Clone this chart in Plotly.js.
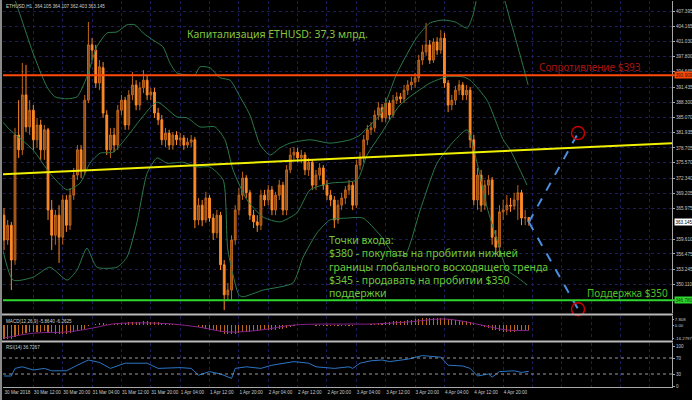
<!DOCTYPE html>
<html><head><meta charset="utf-8">
<script src="https://cdn.plot.ly/plotly-3.0.1.min.js"></script>
<style>html,body{margin:0;padding:0;background:#000}#chart{width:692px;height:400px}</style>
</head><body><div id="chart"></div>
<script>
// ---------- DATA ----------
const timeLabels = ["30 Mar 2018","30 Mar 12:00","30 Mar 20:00","31 Mar 04:00","31 Mar 12:00","31 Mar 20:00","1 Apr 04:00","1 Apr 12:00","1 Apr 20:00","2 Apr 04:00","2 Apr 12:00","2 Apr 20:00","3 Apr 04:00","3 Apr 12:00","3 Apr 20:00","4 Apr 04:00","4 Apr 12:00","4 Apr 20:00"];
const barsPerLabel = 8;
const emptyGridLabels = 5;

const openP = [364.6,359.4,362.5,355.2,381.4,378.3,389.8,383.1,386.6,380.4,383.5,378.3,382.5,365.7,360.4,364.6,360.0,367.8,362.5,368.8,373.0,378.3,374.1,388.7,400.3,399.2,392.3,395.5,385.6,378.3,381.4,379.3,386.6,388.7,383.5,389.8,391.9,387.7,391.3,392.9,389.8,390.4,386.0,384.6,380.4,381.8,379.3,381.4,380.4,380.8,379.3,379.9,380.4,363.6,366.7,363.6,368.2,364.0,360.9,364.6,354.2,347.9,348.9,359.4,365.7,368.8,372.4,369.3,364.6,363.2,362.5,368.8,367.8,369.9,365.7,368.8,370.9,365.7,374.1,377.2,377.8,376.6,377.2,374.1,375.7,370.9,373.0,374.5,370.9,368.8,367.8,363.6,366.7,368.2,369.9,370.9,366.7,375.1,376.6,380.4,382.5,382.9,385.6,387.1,385.0,388.1,385.6,388.7,389.4,389.0,390.8,391.9,392.5,393.4,397.1,398.8,400.3,397.1,400.9,399.2,401.7,392.3,387.7,388.7,390.8,391.9,389.8,390.8,380.4,367.8,373.0,366.7,370.9,372.0,360.0,357.9,365.3,365.7,366.7,366.5,367.8,369.3,364.0,364.105];
const highP = [366.1,363.6,363.2,382.9,388.7,396.5,396.1,388.7,387.7,385.0,384.6,383.5,382.9,367.8,365.7,366.7,368.8,368.8,370.3,374.5,379.3,379.3,389.8,405.1,401.7,400.3,397.1,396.7,386.6,382.9,382.9,387.7,389.8,389.4,390.8,394.6,392.9,392.5,395.0,394.0,391.3,391.3,387.1,385.6,382.9,382.5,382.0,382.2,381.8,381.4,380.8,381.4,381.0,368.2,367.8,369.5,368.8,364.9,365.7,365.3,355.2,350.4,360.4,366.7,370.3,373.7,373.0,369.9,365.7,364.6,369.9,369.9,370.9,370.7,369.5,372.0,371.6,375.1,378.7,378.9,378.7,378.3,377.8,376.6,376.2,374.1,375.5,375.1,372.0,369.9,368.6,367.8,369.3,370.7,372.0,371.6,376.2,377.8,381.4,383.5,384.1,386.6,388.3,387.9,389.2,388.7,389.8,390.4,390.2,391.9,392.9,393.6,394.4,398.2,400.3,404.9,401.3,401.7,401.9,403.4,402.8,392.9,389.8,391.7,392.9,392.5,391.9,391.5,381.4,374.5,374.1,372.0,373.0,372.6,361.5,366.7,367.8,368.8,368.2,369.3,370.9,369.9,365.7,364.107];
const lowP = [357.3,358.4,348.9,354.2,376.6,377.2,382.0,381.4,378.3,378.7,376.2,376.2,363.6,357.3,358.4,354.6,358.4,361.1,361.5,367.8,372.0,372.4,373.0,388.1,397.1,391.3,390.8,385.0,377.2,376.6,377.8,378.3,385.6,382.5,382.5,388.7,386.6,386.6,390.2,388.7,388.7,385.0,383.5,379.3,378.9,378.3,378.3,379.3,379.1,378.3,378.7,378.9,361.9,362.5,362.3,363.0,363.2,359.4,359.8,353.1,344.7,346.8,346.8,358.4,364.6,367.8,368.2,363.6,361.9,361.1,361.5,366.5,366.7,364.6,364.6,367.8,364.6,364.6,373.4,376.2,375.7,375.5,373.0,372.8,369.9,369.9,372.0,369.9,367.8,366.5,361.9,362.8,365.7,366.9,368.8,365.7,366.1,374.1,375.7,379.3,381.4,382.0,384.6,384.1,384.1,384.6,385.0,387.9,388.1,388.1,389.8,390.8,391.3,392.5,396.1,398.0,396.3,396.5,398.2,398.4,391.3,386.2,386.6,387.7,389.8,388.7,388.7,378.7,366.7,365.7,365.3,365.7,368.8,358.4,356.3,355.8,363.6,364.6,365.3,365.7,363.6,362.5,362.5,362.403];
const closeP = [359.4,362.5,355.2,381.4,378.3,389.8,383.1,386.6,380.4,383.5,378.3,382.5,365.7,360.4,364.6,360.0,367.8,362.5,368.8,373.0,378.3,374.1,388.7,400.3,399.2,392.3,395.7,386.0,378.3,381.4,379.3,386.6,388.7,383.5,389.8,391.9,387.7,391.3,392.9,389.8,390.4,386.0,384.6,380.4,381.8,379.3,381.4,380.4,380.8,379.3,379.9,380.4,363.6,366.7,363.6,368.2,364.0,360.9,364.6,354.2,347.9,348.9,359.4,365.7,368.8,372.4,369.3,364.6,363.2,362.5,368.8,367.8,369.9,365.7,368.8,370.9,365.7,374.1,377.2,377.8,376.6,377.2,374.1,375.7,370.9,373.0,374.5,370.9,368.8,367.8,363.6,366.7,368.2,369.9,370.9,366.7,375.1,376.6,380.4,382.5,382.9,385.6,387.1,385.0,388.1,385.6,388.7,389.4,389.0,390.8,391.9,392.5,393.4,397.1,398.8,400.3,397.1,400.9,399.2,401.7,392.3,387.7,388.7,390.8,391.9,389.8,390.8,380.4,367.8,373.0,366.7,370.9,372.0,360.0,357.9,365.3,365.7,366.7,366.5,367.8,369.3,364.0,364.1,363.145];

// Bollinger bands
const bbUpperIdx = [-0.3,3.0,7.9,11.7,13.9,17.2,19.9,22.6,25.3,28.1,30.8,33.5,35.7,37.9,40.6,43.3,45.2,47.1,49.9,52.0,53.4,56.1,58.9,61.6,64.3,67.0,69.8,72.5,75.2,77.9,83.4,88.8,94.3,97.0,98.9,102.5,107.1,112.5,116.1,119.6,122.9,126.2,127.8,129.7,135.1,137.9,140.6,142.8];
const bbUpperVal = [416.0,409.7,398.6,391.5,389.4,389.0,389.4,393.6,399.9,402.8,403.0,404.5,404.5,402.8,401.3,399.9,396.5,394.4,394.0,394.0,395.7,395.5,393.4,392.9,389.4,385.6,379.3,377.2,378.7,379.7,380.4,379.7,380.4,381.4,382.9,385.6,394.4,401.9,404.9,405.5,405.1,403.8,406.6,411.8,411.8,405.5,398.2,391.9];
const bbMidIdx = [-0.3,1.6,7.9,12.5,17.2,20.7,23.4,26.2,29.7,33.5,37.1,41.7,47.1,49.9,53.4,57.5,60.2,62.4,66.2,70.6,75.2,79.8,83.4,88.8,96.2,98.9,102.5,107.9,116.1,120.7,125.1,127.0,131.6,136.0,137.9,142.5];
const bbMidVal = [384.1,382.5,378.3,373.4,369.9,371.3,375.5,377.6,377.8,381.0,384.6,388.3,385.2,385.0,383.1,383.1,380.4,374.1,367.8,364.2,363.2,365.1,369.9,371.3,372.0,377.2,381.4,387.7,392.3,393.6,393.6,392.9,388.7,380.4,378.3,370.9];
const bbLowIdx = [-1.1,2.5,7.9,12.5,17.2,19.9,22.6,25.3,30.8,33.5,36.2,39.0,41.7,44.4,48.8,52.6,56.1,59.7,61.0,64.0,65.1,70.6,78.7,81.5,85.3,88.8,93.5,97.8,102.5,106.5,109.3,113.4,118.0,122.9,126.2,128.9,131.6,134.3,137.1,139.8,142.5];
const bbLowVal = [360.0,351.0,351.6,353.7,351.0,353.1,357.7,353.7,353.7,355.8,363.0,373.4,376.6,375.5,375.7,374.7,374.7,372.0,357.3,347.9,347.5,348.9,350.4,355.8,360.9,363.6,364.0,364.0,360.4,356.3,356.3,365.7,375.5,380.4,382.5,375.5,366.3,359.4,353.1,351.6,350.0];

// MACD(12,26,9)
const macdHist = [-17,-17,-16,-14,-12,-10,-9,-8,-8,
 -8,-8,-7,-8,-9,-10,-10,-10,-10,-9,-8,-7,-6,-4,
 -1,1,2,3,3,2,2,2,
 3,3,3,4,4,4,4,5,5,4,4,4,3,3,2,2,2,1,1,1,
 1,0,-2,-3,-4,-5,-6,-7,-8,-10,
 -11,-11,-10,-9,-8,-8,-8,-7,-7,-6,
 -6,-5,-5,-5,-4,-4,-3,-2,-1,0,0,0,0,0,-1,
 -1,-1,-1,-1,-1,-1,-1,-1,-1,-1,0,0,1,
 1,2,2,3,3,4,4,5,5,6,6,7,7,8,8,9,9,
 9,9,9,9,9,8,8,7,7,6,5,4,
 2,0,-1,-2,-3,-5,-6,-7,-8,-8,-8,-8,-7,-7,-6,-5.864];
const signalIdx = [0,8,17,22,26,30,35,40,46,53,61,70,79,94,100,110,119,123,130,137,143];
const signalVal = [-15.4,-9.5,-8,-5,-1.5,2,3,3,1.7,-2,-8,-5.6,0.5,1.7,1.7,4.2,7.8,6.6,0.5,-5.6,-6.2625];
const macdTicks = [7.808, 0, -16.2797];
const macdTickText = ["7.808","0.00","-16.2797"];

// RSI(14)
const rsiIdx = [0,2,3,5,8,11,13,17,20,23,26,29,33,39,42,48,51,53,56,59,62,63,66,70,73,79,83,85,90,92,94,95,97,100,103,105,110,114,119,121,125,127,129,132,133,135,139,141,143];
const rsiVal = [25,25,44,48,40,44,38,38,52,65,59,44,57,57,44,46,44,27,36,30,19,44,48,44,52,61,57,48,44,46,48,44,57,63,65,61,67,76,72,52,50,44,25,30,22,36,38,34,36.7267];
const rsiTicks = [100,70,30,0];
const rsiLevels = [70,30];

// Price axis labels
const priceTicks = [407.395,404.165,401.030,397.800,394.665,391.435,388.300,385.070,381.935,378.705,375.570,372.340,369.205,365.975,359.610,356.475,353.245,350.110,343.745];
const resistance = 393.909;
const support = 346.780;
const lastPrice = 363.145;
const trendIdx = [-0.3, 182];
const trendVal = [373.2, 379.7];
const projIdx = [143, 156.4];
const projUpVal = [363.145, 381.8];
const projDownVal = [363.145, 344.9];
const targetIdx = [156.4, 156.4];
const targetVal = [381.8, 344.9];

const headerText = "ETHUSD,H1  364.105 364.107 362.403 363.145";
const macdLabel = "MACD(12,26,9) -5.8640 -6.2625";
const rsiLabel = "RSI(14) 36.7267";
const capText = "Капитализация ETHUSD: 37,3 млрд.";
const resText = "Сопротивление $393";
const supText = "Поддержка $350";
const entryLines = ["Точки входа:","$380 - покупать на пробитии нижней","границы глобального восходящего тренда","$345 - продавать на пробитии $350","поддержки"];

// ---------- BUILD ----------
const idx = closeP.map((_, i) => i);
const tickVals = [], tickText = [];
for (let k = 0; k < timeLabels.length + emptyGridLabels; k++) {
  tickVals.push(k * barsPerLabel);
  tickText.push(k < timeLabels.length ? timeLabels[k] : "");
}
const L = 3, R = 20, T = 1, B = 13, W = 692, H = 400;
const pw = W - L - R, ph = H - T - B;
const px = x => (x - L) / pw;
const py = y => (H - B - y) / ph;

const bbStyle = {color:'#2b7a4b', width:1, shape:'spline', smoothing:0.6};
const traces = [
  {type:'scatter', mode:'lines', x:bbUpperIdx, y:bbUpperVal, line:bbStyle, hoverinfo:'skip'},
  {type:'scatter', mode:'lines', x:bbMidIdx, y:bbMidVal, line:bbStyle, hoverinfo:'skip'},
  {type:'scatter', mode:'lines', x:bbLowIdx, y:bbLowVal, line:bbStyle, hoverinfo:'skip'},
  {type:'candlestick', x:idx, open:openP, high:highP, low:lowP, close:closeP,
   increasing:{line:{color:'#c0661c', width:1}, fillcolor:'#8c4814'},
   decreasing:{line:{color:'#ff8a26', width:1}, fillcolor:'#ff8a26'},
   whiskerwidth:0, hoverinfo:'skip'},
  {type:'scatter', mode:'lines', x:trendIdx, y:trendVal, line:{color:'#f0f000', width:2}, hoverinfo:'skip'},
  {type:'scatter', mode:'lines', x:projIdx, y:projUpVal, line:{color:'#4a8fe0', width:2, dash:'dash'}, hoverinfo:'skip'},
  {type:'scatter', mode:'lines', x:projIdx, y:projDownVal, line:{color:'#4a8fe0', width:2, dash:'dash'}, hoverinfo:'skip', cliponaxis:false},
  {type:'scatter', mode:'markers', x:targetIdx, y:targetVal, cliponaxis:false,
   marker:{symbol:'circle-open', size:13, color:'#c80000', line:{width:1.5}}, hoverinfo:'skip'},
  {type:'bar', x:idx, y:macdHist, yaxis:'y2', marker:{color:'#c06a1e'}, width:0.3, hoverinfo:'skip'},
  {type:'scatter', mode:'lines', x:signalIdx, y:signalVal, yaxis:'y2', line:{color:'#86248a', width:1, shape:'spline'}, hoverinfo:'skip'},
  {type:'scatter', mode:'lines', x:rsiIdx, y:rsiVal, yaxis:'y3', line:{color:'#2a76c6', width:1}, hoverinfo:'skip'}
];

const gridC = '#1c1c5a';
const tickFont = {family:'Liberation Sans', size:4.6, color:'#c8c8c8'};
const layout = {
  width:W, height:H, margin:{l:L, r:R, t:T, b:B},
  paper_bgcolor:'#000', plot_bgcolor:'#000', showlegend:false, bargap:0,
  font:{family:'Liberation Sans', color:'#c8c8c8', size:5},
  xaxis:{range:[-0.27,182], tickvals:tickVals, ticktext:tickText, ticklabelposition:'outside right',
    tickangle:0, tickfont:tickFont, showgrid:true, gridcolor:gridC, griddash:'dot', zeroline:false,
    showline:true, linecolor:'#a8a8a8', linewidth:1, ticks:'', anchor:'y3',
    rangeslider:{visible:false}, fixedrange:true},
  yaxis:{domain:[py(313),1], range:[344.10,409.49], side:'right', anchor:'x',
    tickvals:priceTicks, ticktext:priceTicks.map(v=>v.toFixed(3)), tickfont:tickFont,
    showgrid:true, gridcolor:gridC, griddash:'dot', zeroline:false,
    showline:true, linecolor:'#a8a8a8', ticks:'outside', ticklen:2, tickcolor:'#a8a8a8', fixedrange:true},
  yaxis2:{domain:[py(340),py(316)], range:[-17.8,11.5], side:'right', anchor:'x',
    tickvals:macdTicks, ticktext:macdTickText, tickfont:{family:'Liberation Sans', size:4.3, color:'#c8c8c8'}, showgrid:false, zeroline:false,
    showline:true, linecolor:'#a8a8a8', ticks:'outside', ticklen:1, tickcolor:'#a8a8a8', fixedrange:true},
  yaxis3:{domain:[0,py(343)], range:[-2.5,107.5], side:'right', anchor:'x',
    tickvals:rsiTicks, tickfont:tickFont, showgrid:false, zeroline:false,
    showline:true, linecolor:'#a8a8a8', ticks:'outside', ticklen:2, tickcolor:'#a8a8a8', fixedrange:true},
  shapes:[
    ...rsiLevels.map(v => ({type:'line', xref:'paper', yref:'y3', x0:0, x1:1, y0:v, y1:v, line:{color:'#9a9a9a', width:1, dash:'dot'}})),
    {type:'line', xref:'paper', yref:'y', x0:0, x1:1.004, y0:resistance, y1:resistance, line:{color:'#ff4a0a', width:2}},
    {type:'line', xref:'paper', yref:'y', x0:0, x1:1.004, y0:support, y1:support, line:{color:'#2ed62e', width:2}},
    {type:'line', xref:'paper', yref:'paper', x0:px(0), x1:px(673), y0:py(314.5), y1:py(314.5), line:{color:'#b8b8b8', width:2}},
    {type:'line', xref:'paper', yref:'paper', x0:px(0), x1:px(673), y0:py(341.5), y1:py(341.5), line:{color:'#b8b8b8', width:2}},
    {type:'line', xref:'paper', yref:'paper', x0:px(1), x1:px(1), y0:py(400), y1:py(0), line:{color:'#8a8a8a', width:2}}
  ],
  annotations:[
    {xref:'paper', yref:'paper', x:px(4), y:py(6), xanchor:'left', yanchor:'middle', showarrow:false, text:headerText, font:{family:'Liberation Sans', size:4.6, color:'#d0d0d0'}},
    {xref:'paper', yref:'paper', x:px(4), y:py(321), xanchor:'left', yanchor:'middle', showarrow:false, text:macdLabel, font:{family:'Liberation Sans', size:4.6, color:'#d0d0d0'}},
    {xref:'paper', yref:'paper', x:px(4), y:py(347.5), xanchor:'left', yanchor:'middle', showarrow:false, text:rsiLabel, font:{family:'Liberation Sans', size:4.6, color:'#d0d0d0'}},
    {xref:'paper', yref:'paper', x:px(185), y:py(34), xanchor:'left', yanchor:'middle', showarrow:false, text:capText, font:{family:'Noto Sans', size:10.5, color:'#86c43e'}},
    {xref:'paper', yref:'paper', x:px(537), y:py(67), xanchor:'left', yanchor:'middle', showarrow:false, text:resText, font:{family:'Noto Sans', size:10, color:'#a81414'}},
    {xref:'paper', yref:'paper', x:px(585), y:py(293), xanchor:'left', yanchor:'middle', showarrow:false, text:supText, font:{family:'Noto Sans', size:10, color:'#4ec326'}},
    ...entryLines.map((t, k) => ({xref:'paper', yref:'paper', x:px(327), y:py(240 + k*13.3), xanchor:'left', yanchor:'middle', showarrow:false, text:t, font:{family:'Noto Sans', size:10.5, color:'#6cc83a'}})),
    {xref:'paper', yref:'y', x:1.003, y:resistance, xanchor:'left', yanchor:'middle', showarrow:false, text:resistance.toFixed(3), bgcolor:'#ff4a0a', borderpad:0.5, font:{family:'Liberation Sans', size:4.6, color:'#401000'}},
    {xref:'paper', yref:'y', x:1.003, y:lastPrice, xanchor:'left', yanchor:'middle', showarrow:false, text:lastPrice.toFixed(3), bgcolor:'#ffffff', borderpad:0.5, font:{family:'Liberation Sans', size:4.6, color:'#000'}},
    {xref:'paper', yref:'y', x:1.003, y:support, xanchor:'left', yanchor:'middle', showarrow:false, text:support.toFixed(3), bgcolor:'#2ed62e', borderpad:0.5, font:{family:'Liberation Sans', size:4.6, color:'#104010'}}
  ]
};
Plotly.newPlot('chart', traces, layout, {staticPlot:true, displayModeBar:false});
</script>
</body></html>
